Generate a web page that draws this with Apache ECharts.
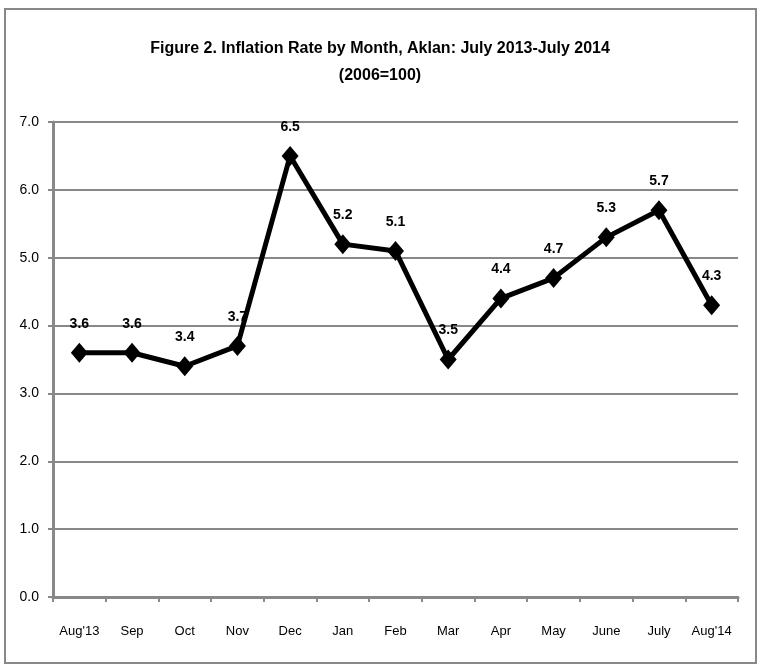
<!DOCTYPE html>
<html><head><meta charset="utf-8">
<script src="https://cdn.jsdelivr.net/npm/echarts@6/dist/echarts.min.js"></script>
<style>html,body{margin:0;padding:0;background:#fff}#c{width:760px;height:669px}</style>
</head><body><div id="c"></div>
<script>
var categories = ["Aug'13","Sep","Oct","Nov","Dec","Jan","Feb","Mar","Apr","May","June","July","Aug'14"];
var values = [3.6,3.6,3.4,3.7,6.5,5.2,5.1,3.5,4.4,4.7,5.3,5.7,4.3];
var titleLines = ["Figure 2. Inflation Rate by Month, Aklan: July 2013-July 2014","(2006=100)"];
var FONT = "'Liberation Sans Narrow','Arial Narrow','Liberation Sans',sans-serif";
var chart = echarts.init(document.getElementById('c'));
chart.setOption({
  backgroundColor:'#fff',
  animation:false,
  graphic:[{type:'rect',shape:{x:5,y:9,width:751,height:654},style:{fill:null,stroke:'#888',lineWidth:2}}],
  title:{text:titleLines.join('\n'),left:'center',top:30,textStyle:{fontFamily:FONT,fontWeight:'bold',fontSize:16,lineHeight:27,color:'#000'}},
  grid:{left:53,right:22,top:122,bottom:72},
  xAxis:{type:'category',data:categories,boundaryGap:true,
    axisLine:{lineStyle:{color:'#888',width:3}},
    axisTick:{show:true,inside:false,length:5,lineStyle:{color:'#888',width:2}},
    axisLabel:{interval:0,margin:28,fontFamily:FONT,fontSize:13,color:'#000'}},
  yAxis:{type:'value',min:0,max:7,interval:1,
    axisLine:{show:true,lineStyle:{color:'#888',width:3}},
    axisTick:{show:true,length:5,lineStyle:{color:'#888',width:2}},
    splitLine:{lineStyle:{color:'#888',width:2}},
    axisLabel:{margin:14,fontFamily:FONT,fontSize:14,color:'#000',formatter:function(v){return v.toFixed(1);}}},
  series:[{type:'line',data:values,symbol:'diamond',symbolSize:[17,20],
    lineStyle:{color:'#000',width:5},itemStyle:{color:'#000'},
    label:{show:true,position:'top',distance:12,fontFamily:FONT,fontWeight:'bold',fontSize:14,color:'#000',formatter:function(p){return p.value.toFixed(1);}}}]
});
</script></body></html>
